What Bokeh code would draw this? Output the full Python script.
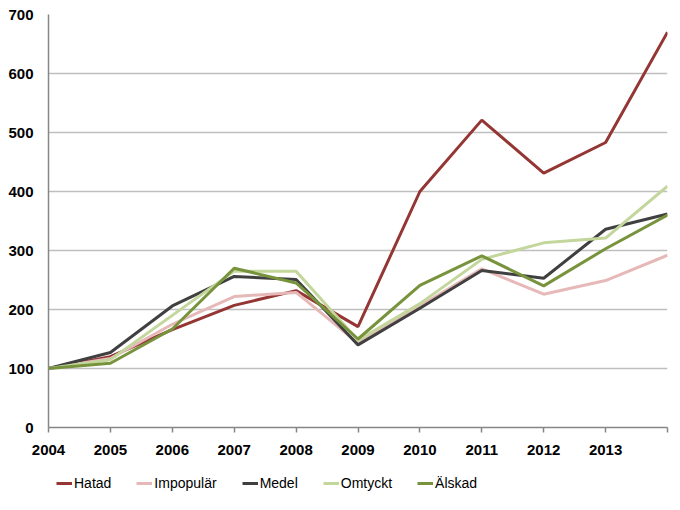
from bokeh.plotting import figure
from bokeh.layouts import column
from bokeh.models import Range1d, FixedTicker, Legend, LegendItem
from bokeh.embed import file_html
from bokeh.resources import INLINE

years = [2004, 2005, 2006, 2007, 2008, 2009, 2010, 2011, 2012, 2013, 2014]
tick_labels = ["2004", "2005", "2006", "2007", "2008", "2009", "2010", "2011", "2012", "2013", ""]

hatad = [100, 120, 166, 207, 232, 171, 400, 521, 431, 483, 670]
impopular = [100, 117, 175, 222, 229, 143, 206, 269, 226, 249, 292]
medel = [100, 127, 206, 256, 251, 140, 202, 266, 253, 336, 362]
omtyckt = [100, 115, 190, 265, 265, 148, 210, 285, 313, 321, 409]
alskad = [100, 109, 167, 270, 245, 150, 241, 291, 240, 303, 360]

series = [
    ("Hatad", hatad, "#943634"),
    ("Impopulär", impopular, "#E6B9B8"),
    ("Medel", medel, "#404040"),
    ("Omtyckt", omtyckt, "#C3D69B"),
    ("Älskad", alskad, "#77933C"),
]

font = "Liberation Sans"

p = figure(frame_width=619, frame_height=413, output_backend="svg", toolbar_location=None,
           x_range=Range1d(2004, 2014), y_range=Range1d(0, 700),
           min_border_left=48, min_border_top=14, min_border_right=5, min_border_bottom=0)
p.outline_line_color = None
p.background_fill_color = "white"

for name, vals, col in series:
    p.line(years, vals, line_color=col, line_width=3)

p.xaxis.ticker = FixedTicker(ticks=years)
p.xaxis.major_label_overrides = {y: l for y, l in zip(years, tick_labels)}
p.yaxis.ticker = FixedTicker(ticks=[0, 100, 200, 300, 400, 500, 600, 700])
for ax in (p.xaxis, p.yaxis):
    ax.axis_line_color = "#868686"
    ax.axis_line_width = 1.5
    ax.major_tick_line_color = "#868686"
    ax.major_tick_line_width = 1.5
    ax.minor_tick_line_color = None
    ax.major_tick_in = 0
    ax.major_label_text_font = font
    ax.major_label_text_font_style = "bold"
    ax.major_label_text_font_size = "15px"
    ax.major_label_text_color = "black"
p.xaxis.major_tick_out = 5
p.yaxis.major_tick_out = 0
p.yaxis.major_label_standoff = 15
p.xaxis.major_label_standoff = 12
p.xgrid.grid_line_color = None
p.ygrid.grid_line_color = "#BFBFBF"
p.ygrid.grid_line_width = 1.5

# legend strip below the chart
lg = figure(frame_width=619, frame_height=44, output_backend="svg", toolbar_location=None,
            x_range=Range1d(0, 1), y_range=Range1d(0, 1),
            x_axis_type=None, y_axis_type=None,
            min_border_left=48, min_border_top=0, min_border_right=5, min_border_bottom=0)
lg.outline_line_color = None
lg.xgrid.grid_line_color = None
lg.ygrid.grid_line_color = None
items = []
for name, vals, col in series:
    r = lg.line(years, vals, line_color=col, line_width=3)
    items.append(LegendItem(label=name, renderers=[r]))

legend = Legend(items=items, orientation="horizontal", location=(8, 8),
                border_line_color=None, background_fill_alpha=0,
                label_text_font=font, label_text_font_size="14px",
                label_text_color="black", glyph_width=16, label_standoff=2,
                spacing=25, margin=0, padding=4)
lg.add_layout(legend, "center")

layout = column(p, lg, spacing=0)
open("out.html", "w").write(file_html(layout, INLINE))
